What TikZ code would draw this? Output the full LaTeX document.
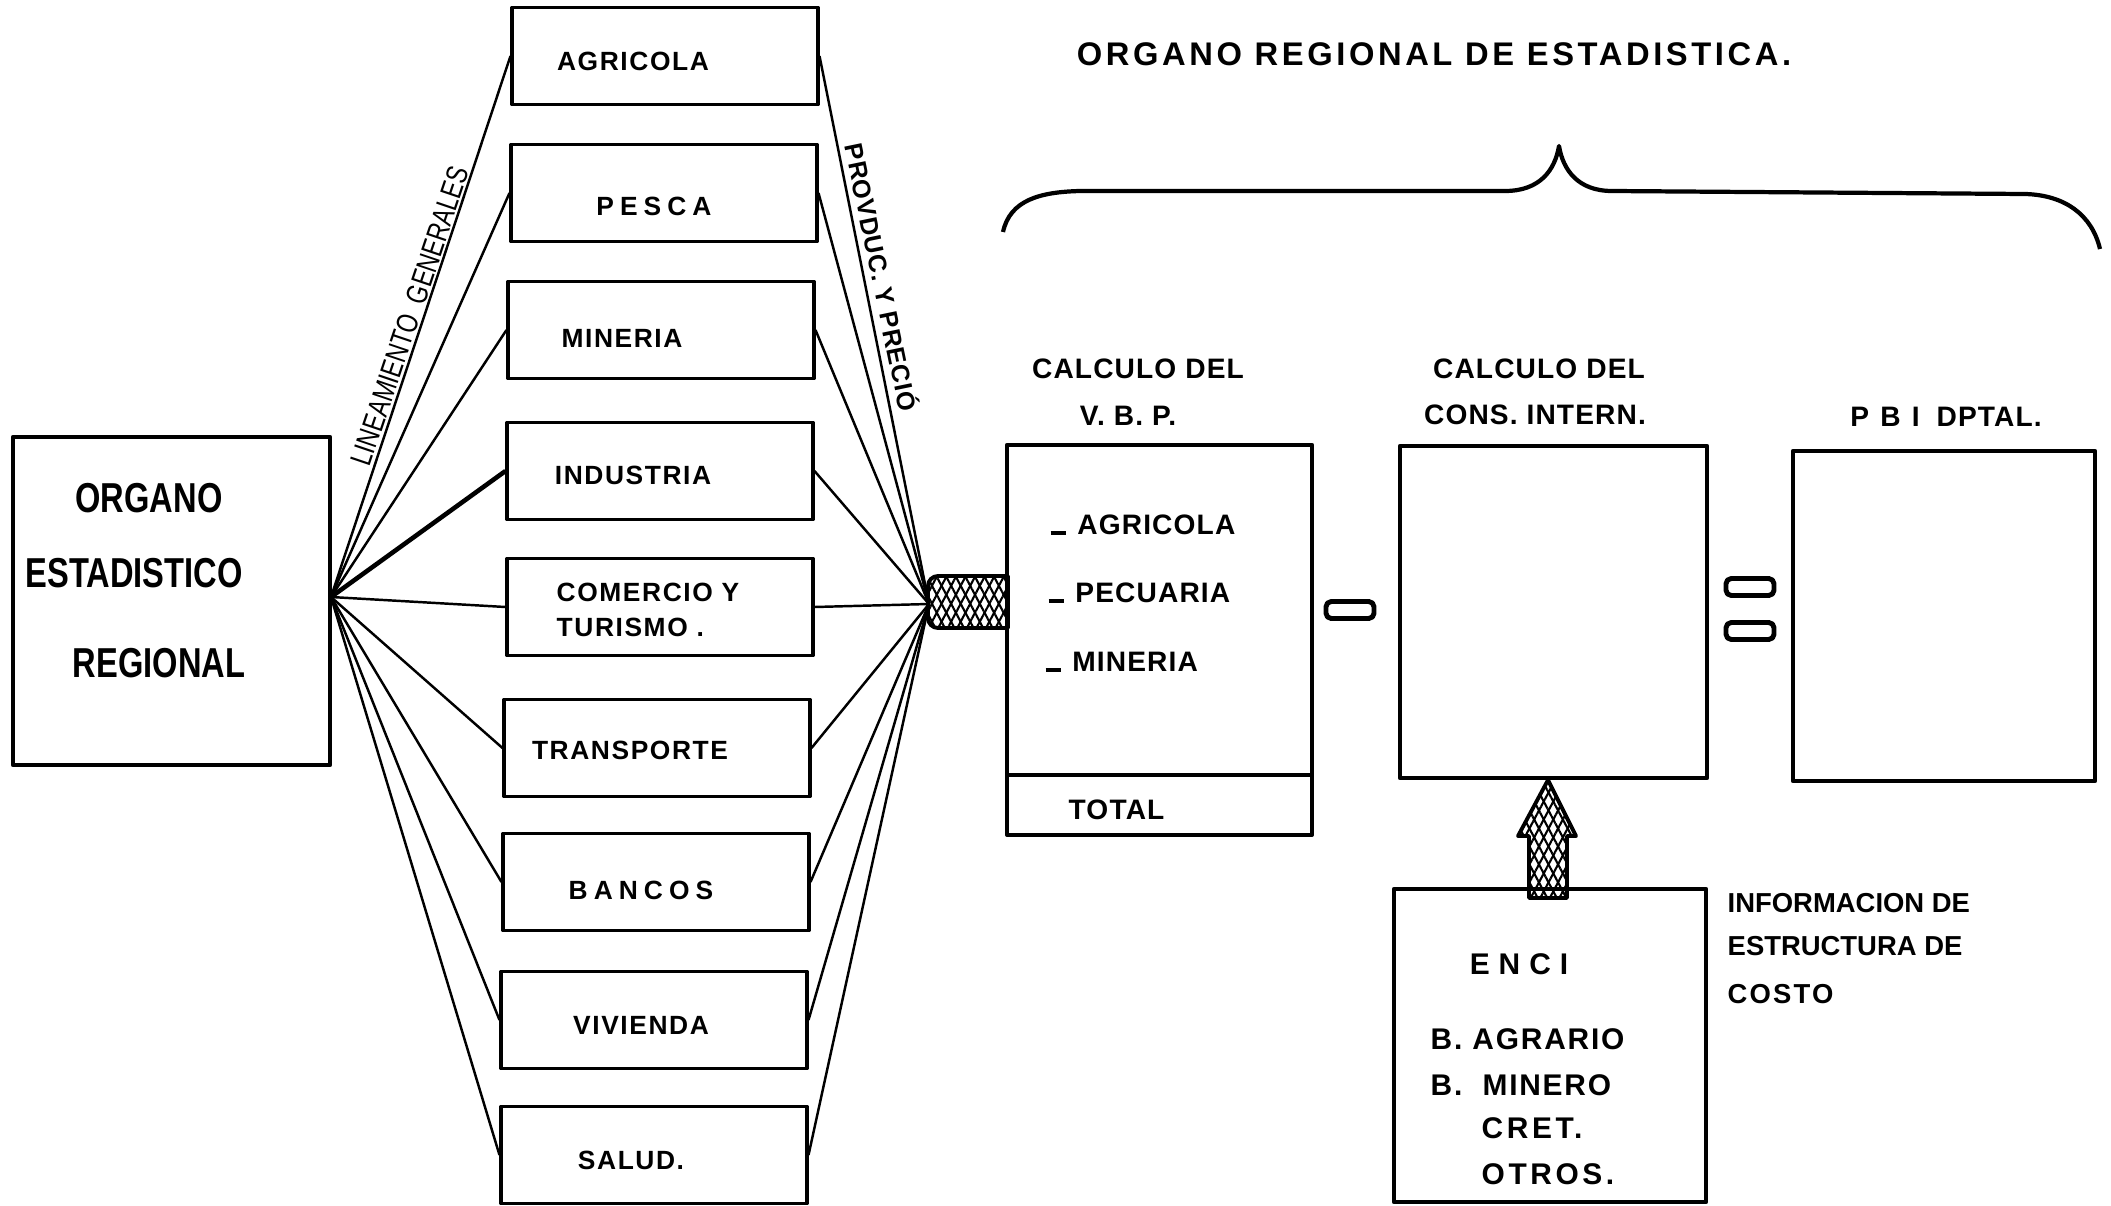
\documentclass[tikz,border=0pt]{standalone}
\usepackage{fontspec}
\setmainfont{Liberation Sans}
\newfontfamily\narrowfont[FakeStretch=0.78]{Liberation Sans}
\usetikzlibrary{patterns.meta}

\def\bw{3.05cm}
\def\bh{0.97cm}
\def\lw{1.1pt}
\newcommand\itemdash{\rule{0.55em}{0.13em}\hspace{0.4em}}
\newcommand\spaced[2]{{\addfontfeature{LetterSpace=#1}#2}}

\begin{document}
\begin{tikzpicture}[x=0.01cm,y=-0.01cm,line join=round,
  sbox/.style={draw,line width=\lw,minimum width=\bw,minimum height=\bh,inner sep=0pt},
  rbox/.style={draw,line width=\lw,inner sep=0pt},
  eqbox/.style={draw,line width=1.4pt,rounded corners=1.5pt,minimum width=0.48cm,minimum height=0.17cm,inner sep=0pt},
  stxt/.style={inner sep=0pt,font=\bfseries\fontsize{7.5}{9}\selectfont\addfontfeature{LetterSpace=6}},
  rtxt/.style={inner sep=0pt,font=\bfseries\fontsize{8}{10}\selectfont\addfontfeature{LetterSpace=4}},
  btxt/.style={inner sep=0pt,font=\narrowfont\bfseries\fontsize{11.9}{14}\selectfont},
  fan/.style={line width=0.7pt},
  hatch/.style={line width=\lw,
    preaction={pattern={Lines[angle=62,distance=2.4pt,line width=0.6pt]}},
    pattern={Lines[angle=-62,distance=2.4pt,line width=0.6pt]}}]
\useasboundingbox (0,0) rectangle (2111,1206);

\node[inner sep=0pt,font=\bfseries\fontsize{9.3}{11}\selectfont\addfontfeature{LetterSpace=11}] (ttl) at (1434,54) {ORGANO REGIONAL DE ESTADISTICA.};
\draw[line width=1.2pt] (1003,232) .. controls (1010,200) and (1040,192) .. (1080,191) -- (1505,191)
  .. controls (1540,191) and (1555,170) .. (1559,146) .. controls (1563,170) and (1578,191) .. (1612,191)
  -- (2025,194) .. controls (2065,195) and (2092,215) .. (2100,249);

\node[rbox,minimum width=3.17cm,minimum height=3.28cm] (oer) at (171.5,601) {};
\node[btxt] (oer1) at (149,498) {ORGANO};
\node[btxt] (oer2) at (134,573) {ESTADISTICO};
\node[btxt] (oer3) at (159,663) {REGIONAL};

\node[sbox] (agr) at (665,56) {};
\node[sbox] (pes) at (664,193) {};
\node[sbox] (min) at (661,330) {};
\node[sbox] (ind) at (660,471) {};
\node[sbox] (com) at (660,607) {};
\node[sbox] (tra) at (657,748) {};
\node[sbox] (ban) at (656,882) {};
\node[sbox] (viv) at (654,1020) {};
\node[sbox] (sal) at (654,1155) {};
\node[stxt] (agrt) at (633,61) {AGRICOLA};
\node[stxt] (pest) at (654,206) {\spaced{23}{PESCA}};
\node[stxt] (mint) at (622,338) {MINERIA};
\node[stxt] (indt) at (633,475) {INDUSTRIA};
\node[stxt,anchor=west,align=left] (comt) at (556,610) {COMERCIO Y\\[1pt]TURISMO .};
\node[stxt] (trat) at (630,750) {TRANSPORTE};
\node[stxt] (bant) at (641,890) {\spaced{23}{BANCOS}};
\node[stxt] (vivt) at (641,1025) {VIVIENDA};
\node[stxt] (salt) at (631,1160) {SALUD.};

\coordinate (fanL) at (331,597);
\coordinate (fanR) at (929,604);
\draw[fan] (fanL) -- (agr.west);
\draw[fan] (fanL) -- (pes.west);
\draw[fan] (fanL) -- (min.west);
\draw[fan,line width=1.3pt] (fanL) -- (ind.west);
\draw[fan] (fanL) -- (com.west);
\draw[fan] (fanL) -- (tra.west);
\draw[fan] (fanL) -- (ban.west);
\draw[fan] (fanL) -- (viv.west);
\draw[fan] (fanL) -- (sal.west);
\draw[fan] (agr.east) -- (fanR);
\draw[fan] (pes.east) -- (fanR);
\draw[fan] (min.east) -- (fanR);
\draw[fan] (ind.east) -- (fanR);
\draw[fan] (com.east) -- (fanR);
\draw[fan] (tra.east) -- (fanR);
\draw[fan] (ban.east) -- (fanR);
\draw[fan] (viv.east) -- (fanR);
\draw[fan] (sal.east) -- (fanR);
\node[rotate=71.3,inner sep=0pt,font=\narrowfont\fontsize{8.5}{10}\selectfont] (lin) at (410,316) {LINEAMIENTO\ \ GENERALES};
\node[rotate=-78.3,inner sep=0pt,font=\bfseries\fontsize{7.2}{8}\selectfont\addfontfeature{LetterSpace=3}] (prv) at (883,277) {PROVDUC. Y PRECIÓ};

\draw[hatch] (1008,576) [rounded corners=0.1cm] -- (928,576) -- (928,628) [sharp corners] -- (1008,628) -- cycle;

\node[rbox,minimum width=3.05cm,minimum height=3.3cm] (vbp) at (1159.5,610) {};
\node[rbox,minimum width=3.05cm,minimum height=0.6cm] (tot) at (1159.5,805) {};
\node[rtxt] (vbp1) at (1138,369) {CALCULO DEL};
\node[rtxt] (vbp2) at (1128,416) {V. B. P.};
\node[rtxt,anchor=west] (vbpa) at (1050,525) {\itemdash AGRICOLA};
\node[rtxt,anchor=west] (vbpb) at (1048,593) {\itemdash PECUARIA};
\node[rtxt,anchor=west] (vbpc) at (1045,662) {\itemdash MINERIA};
\node[rtxt,anchor=west] (tott) at (1068,810) {TOTAL};

\node[eqbox] (mns) at (1350,610) {};

\node[rbox,minimum width=3.07cm,minimum height=3.32cm] (cons) at (1553.5,612) {};
\node[rtxt] (cons1) at (1539,369) {CALCULO DEL};
\node[rtxt] (cons2) at (1535,415) {CONS. INTERN.};

\node[eqbox] (eq1) at (1750,587) {};
\node[eqbox] (eq2) at (1750,631) {};

\node[rbox,minimum width=3.02cm,minimum height=3.3cm] (pbi) at (1944,616) {};
\node[rtxt] (pbit) at (1946,417) {\spaced{40}{PBI}\hspace{0.6em}DPTAL.};

\node[rbox,minimum width=3.12cm,minimum height=3.13cm] (enci) at (1550,1045.5) {};
\draw[hatch] (1529,898) -- (1529,836) -- (1518,836) -- (1548,780) -- (1576,836) -- (1567,836) -- (1567,898) -- cycle;
\node[rtxt,font=\bfseries\fontsize{8.5}{10}\selectfont\addfontfeature{LetterSpace=30}] (encit) at (1519,964) {ENCI};
\node[rtxt,font=\bfseries\fontsize{8.5}{10}\selectfont\addfontfeature{LetterSpace=6},anchor=west] (enc1) at (1430,1039) {B. AGRARIO};
\node[rtxt,font=\bfseries\fontsize{8.5}{10}\selectfont\addfontfeature{LetterSpace=6},anchor=west] (enc2) at (1430,1085) {B.\ \ MINERO};
\node[rtxt,font=\bfseries\fontsize{8.5}{10}\selectfont\addfontfeature{LetterSpace=12},anchor=west] (enc3) at (1481,1128) {CRET.};
\node[rtxt,font=\bfseries\fontsize{8.5}{10}\selectfont\addfontfeature{LetterSpace=12},anchor=west] (enc4) at (1481,1174) {OTROS.};

\node[rtxt,anchor=west,font=\bfseries\fontsize{7.8}{10}\selectfont] (inf1) at (1727,903) {INFORMACION DE};
\node[rtxt,anchor=west,font=\bfseries\fontsize{7.8}{10}\selectfont] (inf2) at (1727,946) {ESTRUCTURA DE};
\node[rtxt,anchor=west,font=\bfseries\fontsize{7.8}{10}\selectfont\addfontfeature{LetterSpace=8}] (inf3) at (1727,994) {COSTO};
\end{tikzpicture}
\end{document}
